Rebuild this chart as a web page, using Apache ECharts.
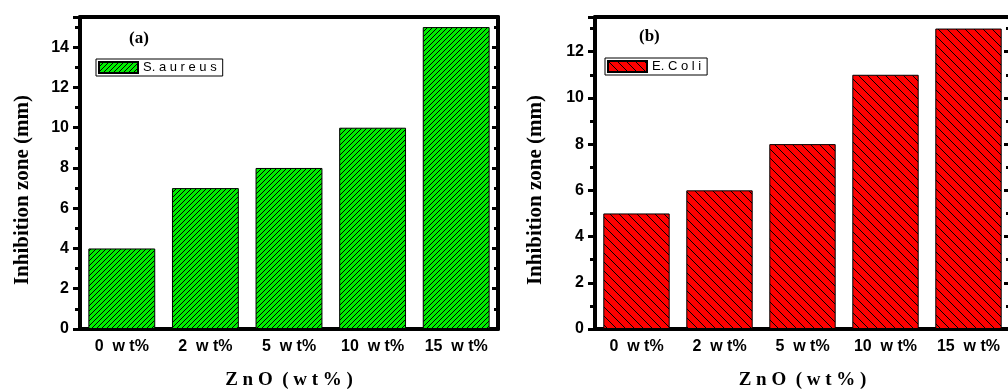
<!DOCTYPE html>
<html lang="en">
<head>
    <meta charset="UTF-8">
    <title>Inhibition zone</title>
    <script src="https://cdn.jsdelivr.net/npm/echarts/dist/echarts.min.js"></script>
    <style>
        body { margin: 0; background: #fff; }
        #chart { width: 1008px; height: 390px; }
    </style>
</head>
<body>
    <div id="chart"></div>
    <script>
        // data
        const categories = ['0 wt%', '2 wt%', '5 wt%', '10 wt%', '15 wt%'];
        const aureusValues = [4, 7, 8, 10, 15];
        const coliValues = [5, 6, 8, 11, 13];
        const yMaxA = 15.5;
        const yMaxB = 13.5;

        const sans = 'Liberation Sans';
        const serif = 'Liberation Serif';

        // hatch pattern: fill colour + diagonal black lines
        function hatch(fill, back, size) {
            const c = document.createElement('canvas');
            c.width = size; c.height = size;
            const ctx = c.getContext('2d');
            ctx.fillStyle = fill;
            ctx.fillRect(0, 0, size, size);
            ctx.strokeStyle = '#000';
            ctx.lineWidth = 1;
            for (let o = -size; o <= size; o += size) {
                ctx.beginPath();
                if (back) {
                    ctx.moveTo(o, 0); ctx.lineTo(o + size, size);
                } else {
                    ctx.moveTo(o, size); ctx.lineTo(o + size, 0);
                }
                ctx.stroke();
            }
            return { image: c, repeat: 'repeat' };
        }

        const spaced = s => s.replace(' wt%', '  w t%');

        const chart = echarts.init(document.getElementById('chart'));

        const grids = [
            { left: 80, top: 17, width: 418, height: 312, outerBoundsMode: 'none', containLabel: false },
            { left: 595, top: 17, width: 415, height: 312, outerBoundsMode: 'none', containLabel: false }
        ];

        const xAxes = [];
        const yAxes = [];
        [0, 1].forEach(g => {
            // bottom: labels + centre ticks
            xAxes.push({
                type: 'category', gridIndex: g, data: categories, position: 'bottom',
                axisLine: { lineStyle: { color: '#000', width: 4 } },
                axisTick: { alignWithLabel: true, length: 5, lineStyle: { width: 4, cap: 'round', color: '#000' } },
                axisLabel: { interval: 0, formatter: spaced, color: '#000', fontFamily: sans, fontWeight: 'bold', fontSize: 16, margin: 10 },
                name: 'Z n O  ( w t % )', nameLocation: 'middle', nameGap: 42,
                nameTextStyle: { fontFamily: serif, fontWeight: 'bold', fontSize: 19, color: '#000' }
            });
            // bottom: boundary ticks
            xAxes.push({
                type: 'category', gridIndex: g, data: categories, position: 'bottom',
                axisLine: { show: false },
                axisTick: { length: 2, lineStyle: { width: 4, cap: 'round', color: '#000' } },
                axisLabel: { show: false }
            });
            // top mirror: centre ticks inside
            xAxes.push({
                type: 'category', gridIndex: g, data: categories, position: 'top',
                axisLine: { lineStyle: { color: '#000', width: 4 } },
                axisTick: { inside: true, alignWithLabel: true, length: 4, lineStyle: { width: 4, cap: 'round', color: '#000' } },
                axisLabel: { show: false }
            });
            xAxes.push({
                type: 'category', gridIndex: g, data: categories, position: 'top',
                axisLine: { show: false },
                axisTick: { inside: true, length: 1, lineStyle: { width: 4, cap: 'round', color: '#000' } },
                axisLabel: { show: false }
            });
            const max = g === 0 ? yMaxA : yMaxB;
            yAxes.push({
                type: 'value', gridIndex: g, min: 0, max: max, interval: 2, position: 'left',
                splitLine: { show: false },
                axisLine: { show: true, lineStyle: { color: '#000', width: 4 } },
                axisTick: { show: true, length: 7, lineStyle: { width: 3, color: '#000' } },
                minorTick: { show: true, splitNumber: 2, length: 5, lineStyle: { width: 3, color: '#000' } },
                axisLabel: { showMaxLabel: false, color: '#000', fontFamily: sans, fontWeight: 'bold', fontSize: 16, margin: 11 },
                name: 'Inhibition zone (mm)', nameLocation: 'middle', nameGap: g === 0 ? 47 : 49,
                nameTextStyle: { fontFamily: serif, fontWeight: 'bold', fontSize: 21, color: '#000', padding: [0, 34, 0, 0] }
            });
            yAxes.push({
                type: 'value', gridIndex: g, min: 0, max: max, interval: 2, position: 'right',
                splitLine: { show: false },
                axisLine: { show: true, lineStyle: { color: '#000', width: 4 } },
                axisTick: { show: true, inside: true, length: 6, lineStyle: { width: 3, color: '#000' } },
                minorTick: { show: true, splitNumber: 2, length: 4, lineStyle: { width: 3, color: '#000' } },
                axisLabel: { show: false }
            });
        });

        const legendText = { fontFamily: sans, fontSize: 13, color: '#000' };

        chart.setOption({
            animation: false,
            grid: grids,
            xAxis: xAxes,
            yAxis: yAxes,
            title: [
                { text: '(a)', left: 124, top: 25, textStyle: { fontFamily: serif, fontWeight: 'bold', fontSize: 17, color: '#000' } },
                { text: '(b)', left: 634, top: 23, textStyle: { fontFamily: serif, fontWeight: 'bold', fontSize: 17, color: '#000' } }
            ],
            legend: [
                {
                    data: ['S. aureus'], left: 96, top: 59, orient: 'vertical', icon: 'rect',
                    itemWidth: 39, itemHeight: 11, itemGap: 0, padding: [2, 6, 2, 2],
                    borderColor: '#000', borderWidth: 1, borderRadius: 0,
                    formatter: 'S. a u r e u s', textStyle: legendText
                },
                {
                    data: ['E. Coli'], left: 605, top: 58, orient: 'vertical', icon: 'rect',
                    itemWidth: 39, itemHeight: 11, itemGap: 0, padding: [2, 6, 2, 2],
                    borderColor: '#000', borderWidth: 1, borderRadius: 0,
                    formatter: 'E. C o l i', textStyle: legendText
                }
            ],
            series: [
                {
                    name: 'S. aureus', type: 'bar', xAxisIndex: 0, yAxisIndex: 0,
                    data: aureusValues, barCategoryGap: '20%',
                    itemStyle: { color: hatch('#00ee00', false, 5), borderColor: '#000', borderWidth: 1 }
                },
                {
                    name: 'E. Coli', type: 'bar', xAxisIndex: 4, yAxisIndex: 2,
                    data: coliValues, barCategoryGap: '20%',
                    itemStyle: { color: hatch('#ff0000', true, 9), borderColor: '#000', borderWidth: 1 }
                }
            ]
        });
    </script>
</body>
</html>
